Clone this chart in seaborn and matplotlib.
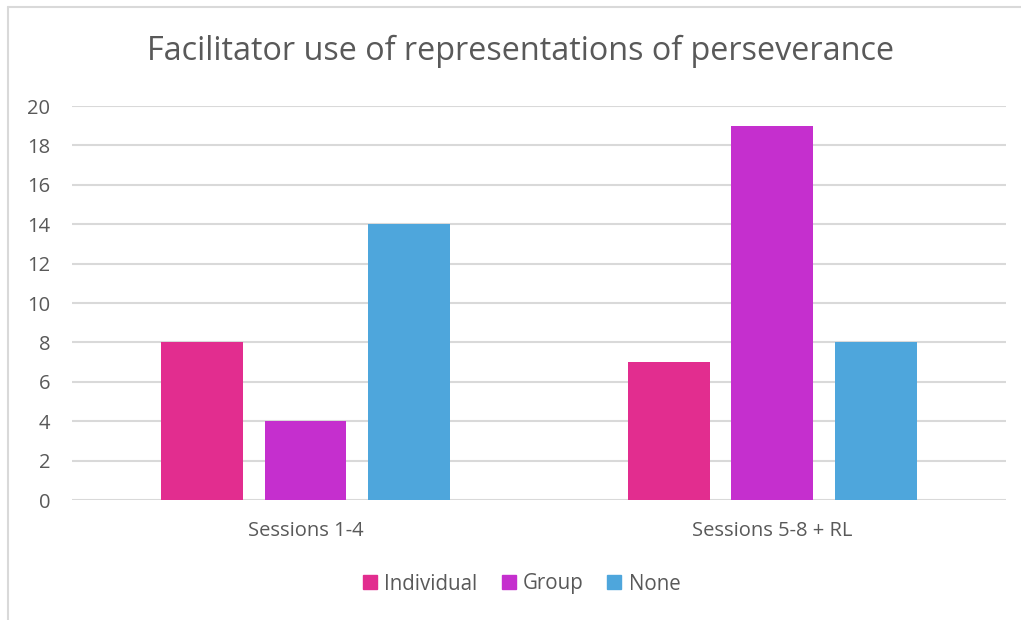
import matplotlib
matplotlib.use("Agg")
import matplotlib.pyplot as plt
from matplotlib.lines import Line2D
import pandas as pd
import seaborn as sns

# Counts of facilitator use by session block
categories = ["Sessions 1-4", "Sessions 5-8 + RL"]
series = ["Individual", "Group", "None"]
individual = [8, 7]
group = [4, 19]
none = [14, 8]
colors = ["#E22D8F", "#C52FCE", "#4EA6DC"]
y_ticks = [0, 2, 4, 6, 8, 10, 12, 14, 16, 18, 20]

df = pd.DataFrame({
    "Session": categories * 3,
    "Type": [s for s in series for _ in categories],
    "Count": individual + group + none,
})

sns.set_theme(style="white")
plt.rcParams["font.family"] = ["Open Sans", "DejaVu Sans"]
text_color = "#595959"
grid_color = "#D9D9D9"

fig = plt.figure(figsize=(10.21, 6.2), dpi=100)
ax = fig.add_axes([0.0705, 0.1935, 0.9145, 0.6355])

sns.barplot(data=df, x="Session", y="Count", hue="Type", order=categories,
            hue_order=series, palette=colors, width=0.665, gap=0.21,
            saturation=1, linewidth=0, ax=ax, legend=True, zorder=3)

ax.set_ylim(0, 20)
ax.set_xlim(-0.5, 1.5)
ax.set_yticks(y_ticks)
ax.yaxis.grid(True, color=grid_color, linewidth=1.5, zorder=0)
ax.set_axisbelow(True)
for s in ax.spines.values():
    s.set_visible(False)
ax.set_xlabel("")
ax.set_ylabel("")
ax.tick_params(axis="y", length=0, pad=15.5, labelsize=14.5, labelcolor=text_color)
ax.tick_params(axis="x", length=0, pad=15, labelsize=14.5, labelcolor=text_color)

# baseline slightly heavier than gridlines
ax.axhline(0, color=grid_color, linewidth=2, zorder=2)

fig.text(0.51, 1 - 51 / 620, "Facilitator use of representations of perseverance",
         ha="center", va="center", fontsize=23.3, color=text_color)

ax.legend_.remove()
handles = [Line2D([], [], marker="s", linestyle="", markersize=10.5,
                  markerfacecolor=c, markeredgecolor=c) for c in colors]
fig.legend(handles, series, loc="center", bbox_to_anchor=(0.51, 1 - 584 / 620),
           ncol=3, frameon=False, fontsize=14.8, labelcolor=text_color,
           handletextpad=0.25, columnspacing=1.05, handlelength=0.9)

# chart border (top and left edges visible)
fig.add_artist(Line2D([8 / 1021, 1], [1 - 7 / 620, 1 - 7 / 620],
                      transform=fig.transFigure, color=grid_color, linewidth=1.5))
fig.add_artist(Line2D([8 / 1021, 8 / 1021], [0, 1 - 7 / 620],
                      transform=fig.transFigure, color=grid_color, linewidth=1.5))

fig.savefig("out.png", dpi=100, facecolor="white")
